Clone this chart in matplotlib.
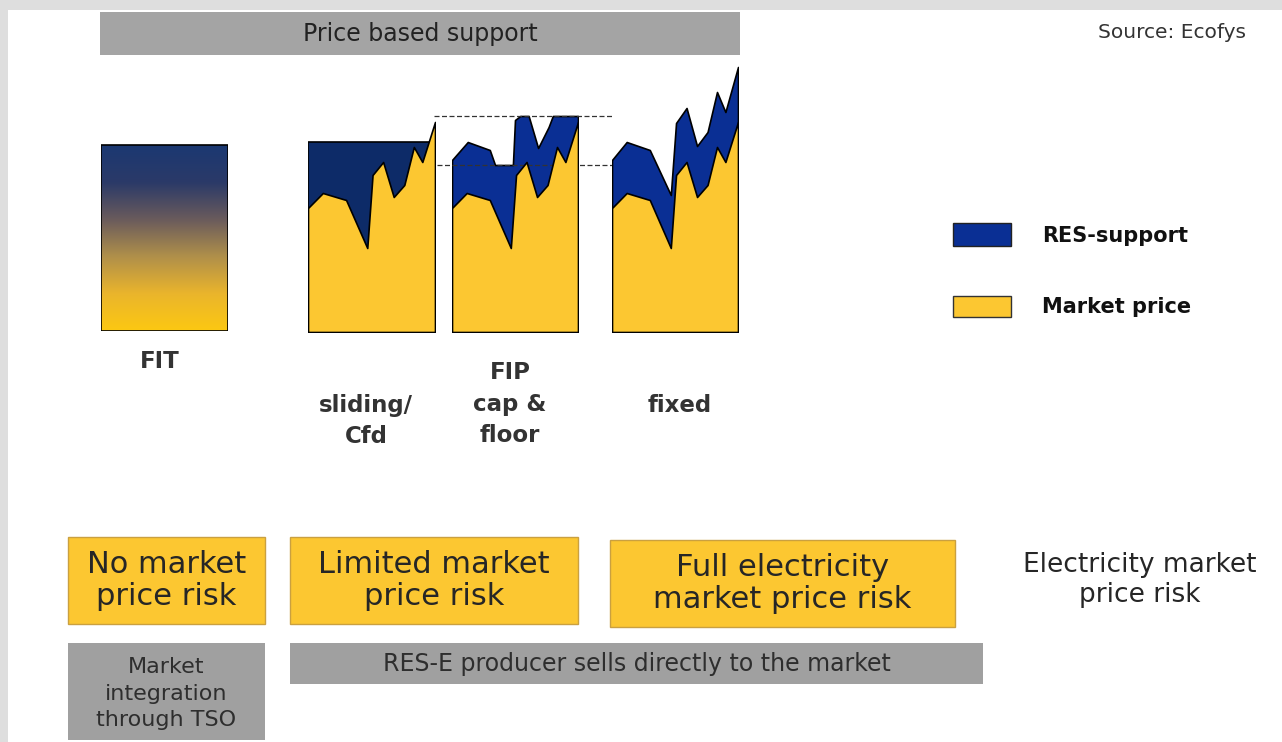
import matplotlib.pyplot as plt
import numpy as np
from matplotlib.colors import LinearSegmentedColormap
from matplotlib.patches import Rectangle

# Market price over one period (same market path used in every scheme)
time = [0, 1.4, 3.6, 5.6, 6.1, 7.1, 8.1, 9.1, 10.0, 10.8, 12]
market_price = [62, 69.5, 66, 42, 78.5, 85, 67.5, 73.5, 92.5, 85, 105]

# Feed-in tariff level
fit_tariff = 93

# Sliding premium / CfD strike price
strike_price = 95

# Premium with cap & floor: total remuneration
cap_level = 108
floor_level = 83.5
capfloor_time = [0, 1.5, 3.6, 4.1, 5.8, 6.0, 6.5, 7.3, 8.2, 9.2, 9.6, 12]
capfloor_total = [86, 95, 91, 83.5, 83.5, 106, 108, 108, 92, 102.5, 108, 108]

# Fixed premium: total remuneration
fixed_total = [86, 95, 91, 68.5, 104.5, 112, 93, 100, 120, 110, 132.5]

scheme_labels = ['FIT', 'sliding/\nCfd', 'FIP\ncap &\nfloor', 'fixed']
risk_labels = ['No market\nprice risk', 'Limited market\nprice risk', 'Full electricity\nmarket price risk']

W, H = 1282, 742
YELLOW = '#fcc731'
BLUE = '#0a2f94'
NAVY = '#0d2b68'
GREY = '#a4a4a4'


def panel_axes(fig, left, right, bottom, top):
    ax = fig.add_axes([left / W, 1 - bottom / H, (right - left) / W, (bottom - top) / H])
    ax.set_xlim(0, 12)
    ax.set_ylim(0, 136)
    ax.axis('off')
    return ax


def draw_support(ax, t_top, top, support_color):
    # RES-support area first, market price drawn over it
    ax.fill_between(t_top, 0, top, facecolor=support_color, edgecolor='black', linewidth=1.2, zorder=2)
    ax.fill_between(time, 0, market_price, facecolor=YELLOW, edgecolor='black', linewidth=1.2, zorder=3)


def text_box(ax, x0, x1, y0, y1, color, text, size, edge='none', txt_color='#262626', linespacing=1.2, dy=0):
    ax.add_patch(Rectangle((x0, y0), x1 - x0, y1 - y0, facecolor=color, edgecolor=edge, linewidth=1))
    ax.text((x0 + x1) / 2, (y0 + y1) / 2 + dy, text, ha='center', va='center', fontsize=size,
            color=txt_color, linespacing=linespacing)


fig = plt.figure(figsize=(W / 100, H / 100), dpi=100, facecolor='#dedede')
base = fig.add_axes([0, 0, 1, 1])
base.set_xlim(0, W)
base.set_ylim(H, 0)
base.axis('off')
base.add_patch(Rectangle((8, 10), W, H, facecolor='white', edgecolor='none'))

# header
text_box(base, 100, 740, 12, 55, GREY, 'Price based support', 17, txt_color='#222222')
base.text(1246, 32, 'Source: Ecofys', ha='right', va='center', fontsize=14.5, color='#333333')

# FIT gradient box
ax_fit = panel_axes(fig, 101, 228, 331, 59)
fit_cmap = LinearSegmentedColormap.from_list('fit', ['#fcc812', '#eab52c', '#b0904a', '#6a5b5c', '#2b3a68', '#1b3872'])
grad = np.linspace(0, 1, 256).reshape(-1, 1)
ax_fit.imshow(grad, extent=[0, 12, 0, fit_tariff], aspect='auto', cmap=fit_cmap, origin='lower')
ax_fit.add_patch(Rectangle((0, 0), 12, fit_tariff, facecolor='none', edgecolor='black', linewidth=1.2))
ax_fit.set_xlim(0, 12)
ax_fit.set_ylim(0, 136)

# sliding premium / CfD
ax_cfd = panel_axes(fig, 308, 435, 332, 60)
draw_support(ax_cfd, [0, 12], [strike_price, strike_price], NAVY)

# premium with cap and floor
ax_cf = panel_axes(fig, 452, 578, 332, 60)
draw_support(ax_cf, capfloor_time, capfloor_total, BLUE)
ax_cf.hlines(cap_level, -1.7, 15.4, colors='#333333', linestyles=(0, (4, 2)), linewidth=0.9, clip_on=False)
ax_cf.hlines(floor_level, -1.4, 15.2, colors='#333333', linestyles=(0, (4, 2)), linewidth=0.9, clip_on=False)

# fixed premium
ax_fix = panel_axes(fig, 612, 738, 332, 60)
draw_support(ax_fix, time, fixed_total, BLUE)

# scheme labels
label_kw = dict(ha='center', va='center', fontsize=16.5, fontweight='bold', color='#333333', linespacing=1.45)
base.text(160, 361, scheme_labels[0], **label_kw)
base.text(366, 421, scheme_labels[1], **label_kw)
base.text(510, 404, scheme_labels[2], **label_kw)
base.text(680, 405, scheme_labels[3], **label_kw)

# legend
base.add_patch(Rectangle((953, 223), 58, 23, facecolor=BLUE, edgecolor='#222222', linewidth=1))
base.add_patch(Rectangle((953, 296), 58, 21, facecolor=YELLOW, edgecolor='#333333', linewidth=1))
base.text(1042, 236, 'RES-support', ha='left', va='center', fontsize=15, fontweight='bold', color='#111111')
base.text(1042, 307, 'Market price', ha='left', va='center', fontsize=15, fontweight='bold', color='#111111')

# risk boxes
text_box(base, 68, 265, 537, 624, YELLOW, risk_labels[0], 22, edge='#caa040', linespacing=1.15)
text_box(base, 290, 578, 537, 624, YELLOW, risk_labels[1], 22, edge='#caa040', linespacing=1.15)
text_box(base, 610, 955, 540, 627, YELLOW, risk_labels[2], 22, edge='#caa040', linespacing=1.15)
base.text(1140, 580, 'Electricity market\nprice risk', ha='center', va='center', fontsize=19,
          color='#262626', linespacing=1.2)

# selling route
text_box(base, 68, 265, 643, 740, '#a0a0a0', 'Market\nintegration\nthrough TSO', 16,
         txt_color='#2e2e2e', linespacing=1.38, dy=2)
text_box(base, 290, 983, 643, 684, '#a0a0a0', 'RES-E producer sells directly to the market', 17,
         txt_color='#2e2e2e')

plt.savefig('out.png', dpi=100, facecolor=fig.get_facecolor())
